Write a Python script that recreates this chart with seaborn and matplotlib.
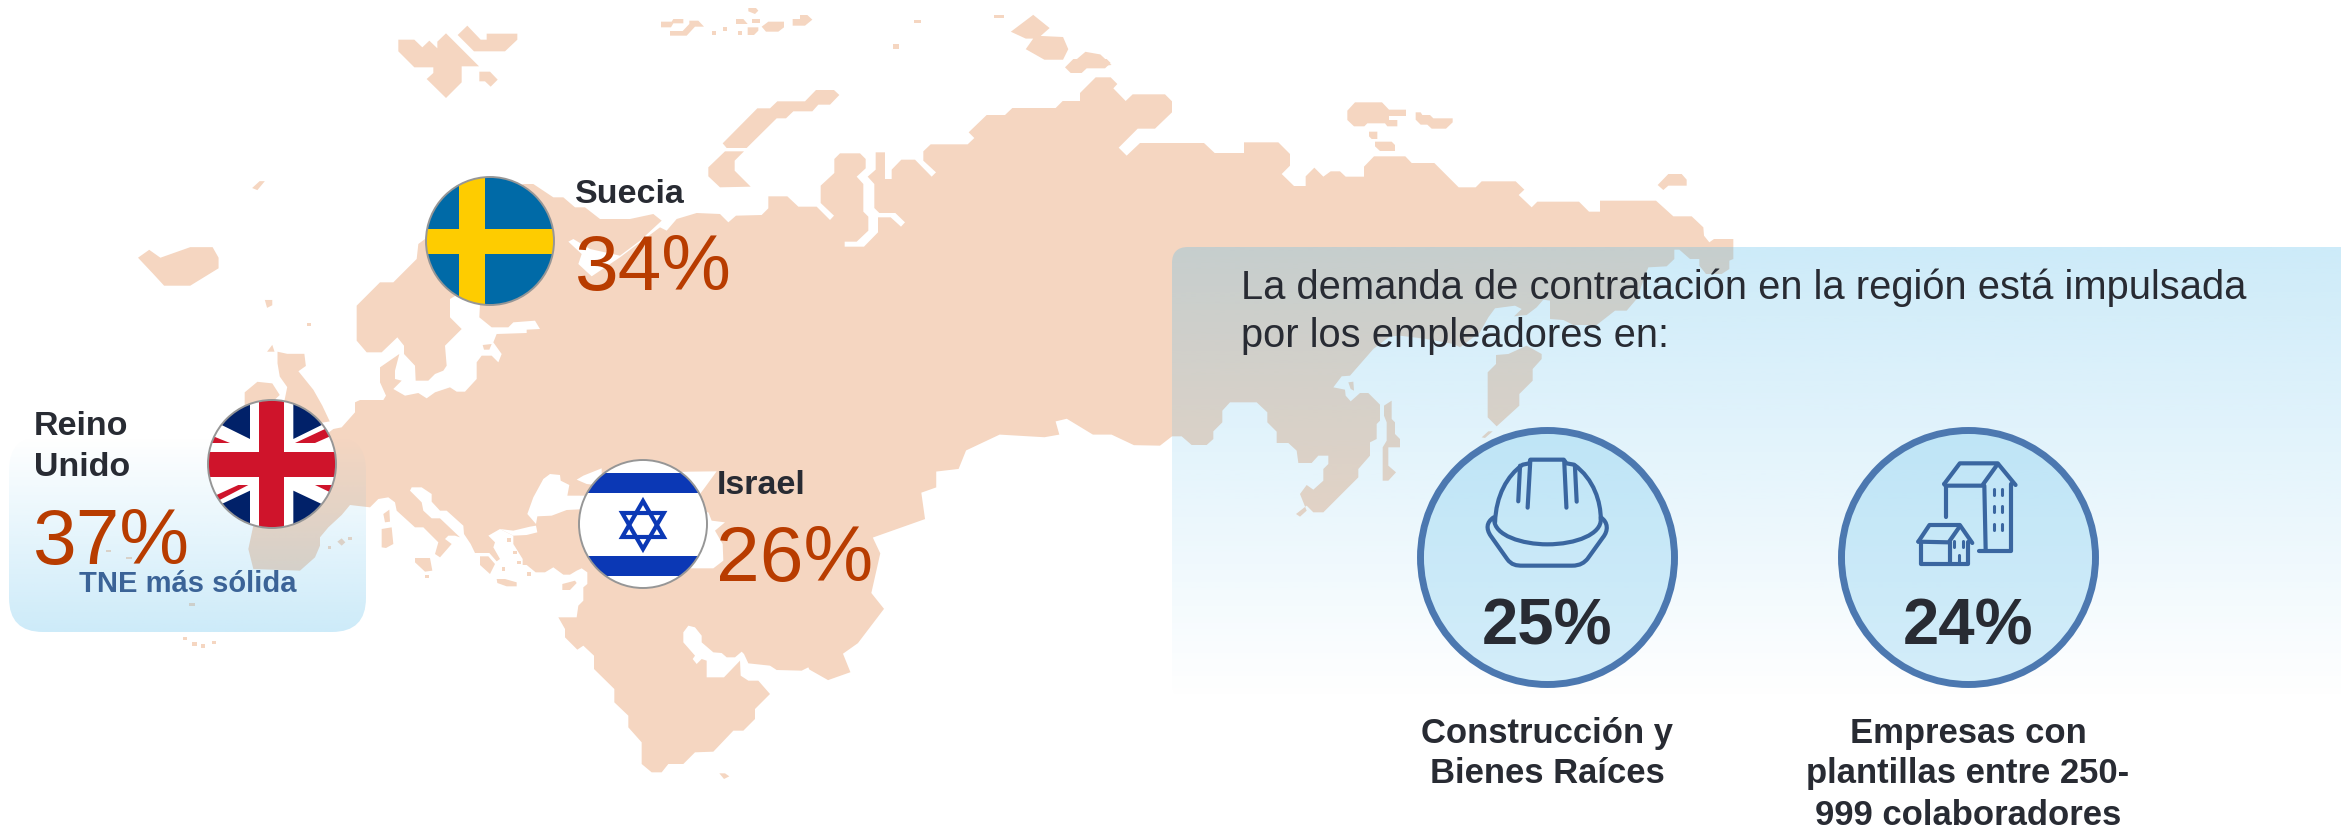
import numpy as np
import matplotlib
matplotlib.use("Agg")
import matplotlib.pyplot as plt
from matplotlib.patches import Polygon, Circle, FancyBboxPatch, PathPatch
from matplotlib.path import Path
import seaborn as sns

# ---------- data ----------
country_names = ["Reino\nUnido", "Suecia", "Israel"]
country_share = [37, 34, 26]
strongest_note = "TNE más sólida"
panel_title = ["La demanda de contratación en la región está impulsada", "por los empleadores en:"]
driver_share = [25, 24]
driver_labels = [["Construcción y", "Bienes Raíces"],
                 ["Empresas con", "plantillas entre 250-", "999 colaboradores"]]

# ---------- colours ----------
LAND = "#F5D6C1"
INK = "#282B33"
RUST = "#B83C00"
STEEL = "#3B6397"
RING = "#4C78B0"
ICON = "#3A66A0"
TINT = (88 / 255, 188 / 255, 235 / 255)

sns.set_theme(style="white")
plt.rcParams["font.family"] = ["Liberation Sans", "DejaVu Sans"]

W, H = 2341, 828
fig = plt.figure(figsize=(W / 100, H / 100), dpi=100, facecolor="white")
ax = fig.add_axes([0, 0, 1, 1])
ax.set_xlim(0, W)
ax.set_ylim(H, 0)
ax.axis("off")


def zm(x0, y0, pts):
    return [(x0 + x / 3, y0 + y / 3) for x, y in pts]


def z1(pts):
    return [(x * 0.746, y * 0.528) for x, y in pts]


# ---------- map outline ----------
main = []
main += zm(520, 170, [(10, 45), (40, 45), (100, 85), (130, 85), (165, 115), (195, 115), (240, 150), (330, 150),
                      (400, 135), (425, 155), (360, 215), (300, 260), (210, 240), (160, 210), (145, 218), (185, 255),
                      (175, 285), (215, 322), (300, 265), (420, 175), (440, 185), (470, 150), (530, 132)])
main += zm(700, 60, [(60, 465), (85, 490), (108, 470), (185, 468), (205, 448), (205, 412), (262, 412), (295, 443),
                     (350, 443), (390, 483), (402, 470), (362, 432), (362, 380), (403, 342), (403, 300), (420, 283),
                     (480, 283), (497, 300), (497, 328), (470, 353), (490, 375), (490, 458), (505, 473), (505, 515),
                     (470, 548), (434, 548), (434, 563), (492, 563), (534, 520), (534, 475), (572, 475), (603, 503),
                     (615, 490), (586, 462), (538, 462), (523, 447), (523, 375), (503, 353), (527, 332), (527, 280),
                     (555, 280), (555, 360), (575, 360), (575, 332), (604, 302), (645, 302), (695, 353), (708, 340),
                     (670, 305), (670, 277), (692, 256), (803, 256), (823, 237), (806, 220), (860, 168), (915, 168),
                     (937, 147), (1067, 147), (1088, 126), (1140, 126), (1140, 102), (1187, 55), (1232, 55),
                     (1252, 75), (1240, 88), (1277, 126), (1298, 106), (1395, 106), (1416, 127), (1416, 160),
                     (1365, 209), (1313, 209), (1256, 266), (1280, 290), (1320, 252), (1512, 252), (1544, 282)])
main += zm(1170, 60, [(222, 282), (222, 250), (325, 250), (360, 285), (360, 320), (335, 345), (372, 381), (407, 381),
                      (407, 352), (433, 326), (460, 353), (482, 337), (510, 337), (527, 353), (582, 353), (582, 323),
                      (612, 292), (706, 292), (725, 312), (793, 312), (866, 385), (917, 385), (935, 367), (1037, 367),
                      (1063, 392), (1046, 408), (1085, 445), (1102, 428), (1227, 428), (1257, 458), (1290, 458),
                      (1290, 425), (1458, 425)])
main += zm(1620, 210, [(160, 22), (215, 22), (250, 55), (252, 80), (268, 100), (282, 90), (340, 90), (340, 150),
                       (328, 155), (328, 180), (305, 195), (258, 195), (238, 170), (238, 150), (210, 150), (178, 122),
                       (163, 122), (163, 150), (140, 172), (85, 175)])
main += zm(1160, 240, [(1430, 180), (1400, 215), (1365, 215), (1310, 258), (1240, 258), (1210, 243), (1170, 240),
                       (1170, 185), (1150, 182), (1130, 205), (1100, 228), (1062, 232), (1085, 210), (1065, 200),
                       (1005, 208), (985, 235), (960, 280), (900, 325), (880, 315), (800, 300), (720, 290), (690, 292),
                       (640, 330), (570, 410), (545, 412), (520, 445), (555, 452), (557, 470), (572, 487), (600, 462),
                       (625, 462), (660, 497), (660, 545), (650, 555), (650, 600), (630, 610), (630, 650), (595, 690),
                       (595, 715), (490, 820), (460, 820), (440, 800), (408, 825), (420, 833), (440, 815), (420, 765),
                       (440, 738), (460, 752), (490, 725), (490, 690), (505, 675), (505, 650), (475, 650), (455, 672),
                       (415, 672), (410, 635), (385, 612), (350, 612), (350, 578), (322, 550), (322, 520), (290, 490),
                       (210, 490), (187, 515), (187, 550), (160, 577), (160, 600), (140, 618), (95, 618), (65, 592),
                       (36, 592), (0, 620)])
main += z1([(1520, 845), (1490, 825), (1465, 825), (1430, 795), (1415, 800), (1420, 825), (1400, 830), (1340, 825),
            (1295, 855), (1285, 890), (1255, 895), (1255, 925), (1235, 935), (1240, 985), (1170, 1020), (1180, 1050),
            (1168, 1125), (1185, 1155), (1150, 1220), (1130, 1240), (1140, 1275), (1110, 1290), (1085, 1270)])
main += zm(300, 480, [(1525, 565), (1505, 575), (1430, 573), (1410, 560), (1345, 553), (1332, 525), (1325, 518),
                      (1305, 535), (1280, 535), (1265, 522), (1240, 520), (1205, 490), (1205, 470), (1185, 445),
                      (1165, 440), (1150, 460), (1150, 490), (1185, 530), (1178, 540), (1190, 555), (1205, 540),
                      (1220, 545), (1220, 595), (1272, 595), (1320, 545), (1322, 590), (1345, 605), (1375, 605),
                      (1410, 645), (1365, 690), (1365, 720), (1330, 755), (1300, 755), (1240, 818), (1185, 820),
                      (1150, 855), (1105, 855), (1085, 880), (1055, 880), (1025, 855), (1025, 790), (985, 745),
                      (985, 710), (943, 670), (943, 630), (882, 570), (882, 530), (850, 500), (832, 512), (795, 475),
                      (795, 450), (775, 415), (830, 415), (835, 380), (850, 365), (850, 325), (862, 315), (862, 280),
                      (845, 268), (830, 275), (810, 287), (790, 287), (760, 265), (735, 280), (707, 280), (680, 258),
                      (668, 258), (668, 240), (640, 195), (640, 170), (600, 150), (565, 170), (585, 190), (580, 205),
                      (600, 240), (590, 247), (568, 222), (525, 222), (512, 195), (492, 165), (490, 140), (440, 95),
                      (420, 95), (395, 68), (395, 45), (365, 25), (335, 25), (330, 35), (365, 70), (370, 95),
                      (395, 118), (420, 118), (480, 175), (465, 170), (445, 170), (435, 180), (455, 195), (420, 235),
                      (405, 225), (415, 190), (370, 145), (345, 145), (290, 95), (285, 70), (265, 55), (235, 60),
                      (210, 85), (150, 78), (125, 108), (85, 145), (60, 175), (60, 200), (45, 235), (0, 275)])
main += zm(0, 380, [(760, 570), (745, 510), (760, 440), (800, 300), (1000, 150)])
main += zm(300, 240, [(125, 565), (165, 520), (165, 490), (180, 483), (250, 483), (258, 470), (240, 430), (240, 385),
                      (298, 345), (285, 395), (285, 420), (305, 425), (280, 450), (315, 470), (355, 462), (380, 478),
                      (405, 460), (450, 445), (470, 458), (495, 458), (530, 420), (530, 370), (545, 350), (575, 350),
                      (595, 370), (605, 345), (580, 310), (590, 285), (680, 282), (680, 272), (720, 270), (705, 245),
                      (640, 250), (625, 265), (575, 265), (538, 235), (540, 195), (500, 150), (450, 180), (450, 235),
                      (485, 270), (435, 320), (440, 380), (430, 395), (405, 405), (385, 425), (347, 425), (345, 380),
                      (312, 345), (312, 320), (292, 295), (245, 340), (200, 340), (170, 305), (170, 200), (240, 130),
                      (280, 130), (350, 60), (355, 15), (375, 0)])

islands = [
    # Novaya Zemlya and arctic
    zm(700, 60, [(68, 253), (172, 148), (210, 148), (232, 127), (315, 127), (348, 93), (402, 93), (418, 108),
                 (390, 137), (355, 137), (337, 157), (280, 157), (258, 178), (230, 178), (140, 267), (80, 267)]),
    zm(700, 60, [(25, 325), (75, 277), (132, 277), (104, 305), (104, 335), (152, 383), (60, 385), (25, 352)]),
    zm(700, 60, [(1095, 25), (1120, 0), (1220, 0), (1232, 12), (1215, 28), (1160, 28), (1145, 42), (1112, 42)]),
    # Svalbard
    zm(380, 0, [(55, 122), (103, 122), (127, 145), (148, 125), (172, 148), (172, 128), (198, 103), (297, 202),
                (245, 202), (245, 250), (198, 297), (140, 240), (160, 222), (160, 205), (103, 205), (55, 157)]),
    zm(380, 0, [(233, 108), (262, 80), (302, 122), (320, 122), (320, 104), (412, 104), (412, 122), (375, 157),
                (282, 157)]),
    zm(380, 0, [(298, 218), (330, 218), (353, 242), (332, 263), (315, 247), (298, 247)]),
    # Franz Josef Land
    zm(380, 0, [(843, 68), (875, 68), (880, 60), (910, 60), (910, 73), (880, 73), (873, 85), (843, 85)]),
    zm(380, 0, [(870, 96), (908, 96), (928, 75), (928, 65), (955, 65), (972, 83), (945, 83), (920, 110), (870, 110)]),
    zm(380, 0, [(995, 95), (1007, 95), (1007, 107), (995, 107)]),
    zm(380, 0, [(1030, 85), (1040, 85), (1040, 95), (1030, 95)]),
    zm(380, 0, [(1075, 95), (1087, 95), (1087, 107), (1075, 107)]),
    zm(380, 0, [(1068, 60), (1090, 60), (1103, 75), (1068, 75)]),
    zm(380, 0, [(1115, 60), (1140, 60), (1140, 72), (1115, 72)]),
    zm(380, 0, [(1103, 85), (1135, 85), (1135, 95), (1122, 108), (1103, 108)]),
    zm(380, 0, [(1145, 83), (1165, 68), (1212, 68), (1212, 85), (1195, 98), (1158, 98)]),
    zm(380, 0, [(1238, 60), (1260, 60), (1260, 48), (1282, 48), (1297, 62), (1275, 80), (1238, 80)]),
    zm(380, 0, [(1105, 27), (1128, 27), (1135, 35), (1125, 45), (1105, 37)]),
    zm(380, 0, [(1540, 135), (1555, 135), (1555, 150), (1540, 150)]),
    z1([(1355, 62), (1385, 30), (1407, 55), (1395, 70), (1425, 72), (1432, 95), (1425, 115), (1400, 115), (1375, 95),
        (1385, 75), (1375, 75)]),
    z1([(1430, 130), (1455, 100), (1475, 105), (1490, 125), (1455, 130), (1440, 140)]),
    z1([(1225, 40), (1235, 40), (1235, 46), (1225, 46)]),
    z1([(1198, 85), (1205, 85), (1205, 95), (1198, 95)]),
    z1([(1333, 30), (1346, 30), (1346, 36), (1333, 36)]),
    # Severnaya Zemlya and New Siberian
    zm(1170, 60, [(532, 155), (555, 130), (636, 130), (657, 152), (708, 152), (708, 171), (657, 171), (657, 183),
                  (682, 183), (682, 202), (652, 202), (645, 193), (592, 193), (583, 202), (552, 202), (532, 183)]),
    zm(1170, 60, [(737, 160), (752, 160), (757, 168), (780, 168), (790, 178), (848, 178), (848, 190), (828, 209),
                  (785, 209), (772, 197), (752, 197), (737, 182)]),
    zm(1170, 60, [(597, 218), (622, 218), (622, 240), (605, 240), (597, 232)]),
    zm(1170, 60, [(615, 248), (665, 248), (675, 258), (675, 276), (630, 276), (615, 262)]),
    zm(1170, 60, [(1463, 378), (1495, 345), (1535, 345), (1550, 362), (1550, 380), (1495, 380), (1480, 393)]),
    # Iceland and north Atlantic
    z1([(185, 490), (200, 475), (215, 490), (255, 470), (285, 470), (293, 490), (293, 510), (255, 543), (220, 543),
        (205, 520)]),
    z1([(338, 358), (348, 345), (355, 345), (345, 362)]),
    z1([(355, 570), (365, 570), (365, 580), (358, 585)]),
    # Britain and Ireland
    z1([(372, 668), (385, 672), (408, 672), (410, 695), (400, 705), (420, 740), (432, 770), (442, 800), (400, 810),
        (380, 770), (385, 735), (375, 715), (372, 690)]),
    z1([(328, 745), (345, 725), (365, 728), (375, 750), (345, 790), (328, 775)]),
    z1([(358, 668), (365, 655), (368, 668)]),
    # Mediterranean
    zm(300, 480, [(250, 105), (268, 92), (270, 128), (255, 130)]),
    zm(300, 480, [(245, 150), (275, 145), (280, 195), (258, 207), (245, 205)]),
    zm(300, 480, [(345, 237), (390, 237), (397, 275), (375, 278), (345, 250)]),
    zm(300, 480, [(590, 300), (615, 300), (650, 310), (650, 322), (620, 322), (592, 312)]),
    zm(300, 480, [(787, 315), (825, 305), (830, 312), (810, 333), (787, 333)]),
    zm(300, 480, [(540, 232), (565, 232), (585, 255), (580, 265), (570, 285), (540, 258)]),
    zm(300, 480, [(112, 188), (125, 178), (136, 190), (125, 200)]),
    zm(300, 480, [(143, 175), (155, 175), (155, 182), (143, 182)]),
    zm(300, 480, [(83, 202), (94, 202), (94, 211), (83, 211)]),
    zm(300, 480, [(375, 288), (386, 288), (386, 298), (375, 298)]),
    zm(300, 480, [(620, 178), (632, 178), (632, 188), (620, 188)]),
    zm(300, 480, [(638, 216), (650, 216), (650, 226), (638, 226)]),
    zm(300, 480, [(652, 246), (662, 246), (662, 256), (652, 256)]),
    zm(300, 480, [(605, 265), (615, 265), (615, 275), (605, 275)]),
    zm(300, 480, [(682, 280), (692, 280), (692, 290), (682, 290)]),
    zm(300, 480, [(1258, 883), (1275, 883), (1288, 892), (1272, 900)]),
    zm(300, 240, [(22, 252), (34, 252), (34, 262), (22, 262)]),
    zm(300, 240, [(548, 318), (575, 315), (568, 332), (552, 332)]),
    # Atlantic specks
    zm(0, 380, [(550, 775), (560, 775), (560, 783), (550, 783)]),
    zm(0, 380, [(577, 788), (592, 788), (592, 802), (577, 802)]),
    zm(0, 380, [(604, 796), (614, 796), (614, 806), (604, 806)]),
    zm(0, 380, [(636, 785), (648, 785), (648, 795), (636, 795)]),
    zm(0, 380, [(568, 672), (585, 672), (585, 680), (568, 680)]),
    zm(0, 380, [(378, 534), (396, 534), (396, 541), (378, 541)]),
    zm(0, 380, [(318, 512), (333, 512), (333, 518), (318, 518)]),
    # Far east
    zm(1160, 240, [(672, 500), (695, 485), (695, 540), (705, 550), (705, 585), (720, 600), (720, 625), (685, 625),
                   (685, 680), (708, 700), (685, 725), (668, 725), (668, 625), (680, 605), (680, 550), (672, 530)]),
    zm(1160, 240, [(983, 400), (1008, 375), (1008, 348), (1045, 345), (1100, 320), (1145, 345), (1145, 360),
                   (1118, 390), (1118, 425), (1078, 465), (1078, 500), (1010, 562), (983, 535)]),
    zm(1160, 240, [(965, 595), (985, 577), (998, 577), (975, 597)]),
    zm(1160, 240, [(565, 430), (580, 428), (582, 455), (572, 450)]),
]

seas = [
    # Black Sea and Bosphorus
    zm(300, 240, [(682, 825), (700, 775), (730, 720), (750, 705), (780, 708), (782, 725), (808, 738), (802, 770),
                  (860, 770), (860, 810), (800, 813), (755, 830), (712, 832), (708, 855)]),
    zm(300, 480, [(600, 150), (640, 155), (690, 143), (708, 140), (712, 160), (680, 168), (640, 170)]),
    zm(300, 240, [(830, 722), (850, 710), (905, 688), (905, 740), (860, 735)]),
    # Caspian and Azov
    zm(300, 480, [(1185, 268), (1240, 268), (1270, 245), (1268, 195), (1245, 155), (1275, 130), (1235, 125),
                  (1225, 100), (1150, 100), (1150, 268)]),
    zm(300, 240, [(1100, 700), (1165, 698), (1250, 697), (1215, 745), (1200, 765), (1100, 790)]),
]

ax.add_patch(Polygon(main, closed=True, fc=LAND, ec="none", zorder=1))
for poly in islands:
    ax.add_patch(Polygon(poly, closed=True, fc=LAND, ec="none", zorder=1))
for poly in seas:
    ax.add_patch(Polygon(poly, closed=True, fc="white", ec="none", zorder=1.5))


# ---------- gradient panels ----------
def gradient_panel(x0, x1, y0, y1, a_top, a_bottom, radius, zorder=2):
    grad = np.zeros((256, 1, 4))
    grad[..., 0], grad[..., 1], grad[..., 2] = TINT
    grad[:, 0, 3] = np.linspace(a_top, a_bottom, 256)
    im = ax.imshow(grad, extent=(x0, x1, y1, y0), origin="upper", aspect="auto", zorder=zorder, interpolation="bilinear")
    clip = FancyBboxPatch((x0 + radius, y0 + radius), x1 - x0 - 2 * radius, y1 - y0 - 2 * radius,
                          boxstyle=f"round,pad={radius},rounding_size={radius}", transform=ax.transData,
                          fc="none", ec="none")
    ax.add_patch(clip)
    im.set_clip_path(clip)


gradient_panel(1172, 2420, 248, 702, 0.30, 0.0, 16)
gradient_panel(9, 366, 437, 633, 0.0, 0.30, 34)
ax.set_xlim(0, W)
ax.set_ylim(H, 0)


# ---------- flags ----------
def flag_disc(cx, cy, r=64):
    return Circle((cx, cy), r, transform=ax.transData, fc="none", ec="none")


def clipped(patch, disc):
    ax.add_patch(patch)
    patch.set_clip_path(disc)
    return patch


def rect(x0, y0, x1, y1):
    return [(x0, y0), (x1, y0), (x1, y1), (x0, y1)]


def finish_flag(cx, cy, r=64):
    ax.add_patch(Circle((cx, cy), r, fc="none", ec="#969696", lw=1.4, zorder=6))


# Sweden
sx, sy = 490, 242
disc = flag_disc(sx, sy)
ax.add_patch(disc)
clipped(Polygon(rect(sx - 70, sy - 70, sx + 70, sy + 70), fc="#006AA7", ec="none", zorder=5), disc)
clipped(Polygon(rect(459, sy - 70, 485, sy + 70), fc="#FECC00", ec="none", zorder=5.1), disc)
clipped(Polygon(rect(sx - 70, 230, sx + 70, 255), fc="#FECC00", ec="none", zorder=5.1), disc)
finish_flag(sx, sy)

# United Kingdom
ux, uy = 272, 465
disc = flag_disc(ux, uy)
ax.add_patch(disc)
clipped(Polygon(rect(ux - 70, uy - 70, ux + 70, uy + 70), fc="white", ec="none", zorder=5), disc)
navy = [[(750, 50), (750, 180), (665, 138), (680, 50)], [(880, 50), (880, 180), (965, 138), (950, 50)],
        [(750, 335), (750, 460), (640, 460), (665, 375)], [(880, 335), (965, 375), (990, 460), (880, 460)]]
for p in navy:
    clipped(Polygon(zm(0, 380, p), fc="#012169", ec="none", zorder=5.1), disc)
reds = [[(635, 170), (690, 192), (620, 192)], [(885, 192), (975, 150), (995, 170), (945, 192)],
        [(645, 350), (715, 318), (745, 318), (655, 365)], [(945, 318), (1010, 318), (995, 342)],
        [(778, 50), (852, 50), (852, 460), (778, 460)], [(610, 218), (1020, 218), (1020, 293), (610, 293)]]
for p in reds:
    clipped(Polygon(zm(0, 380, p), fc="#CF142B", ec="none", zorder=5.2), disc)
finish_flag(ux, uy)

# Israel
ix, iy = 643, 525
disc = flag_disc(ix, iy)
ax.add_patch(disc)
clipped(Polygon(rect(ix - 70, iy - 70, ix + 70, iy + 70), fc="white", ec="none", zorder=5), disc)
clipped(Polygon(rect(ix - 70, 474, ix + 70, 494), fc="#0B38B5", ec="none", zorder=5.1), disc)
clipped(Polygon(rect(ix - 70, 557, ix + 70, 577), fc="#0B38B5", ec="none", zorder=5.1), disc)
for rot in (-90, 90):
    ang = np.deg2rad(rot + np.array([0, 120, 240]))
    tri = list(zip(ix + 24 * np.cos(ang), 526 + 24 * np.sin(ang)))
    ax.add_patch(Polygon(tri, closed=True, fc="none", ec="#0B38B5", lw=3, joinstyle="miter", zorder=5.3))
finish_flag(ix, iy)

# ---------- rings, through seaborn ----------
ring_cx = [1547, 1968]
sns.scatterplot(x=ring_cx, y=[558, 558], s=(254 * 0.72) ** 2, color=TINT + (0.25,), edgecolor=RING, linewidth=5,
                marker="o", legend=False, ax=ax, zorder=4, clip_on=False)
ax.set_xlim(0, W)
ax.set_ylim(H, 0)
ax.axis("off")


# ---------- icons ----------
def z3(x, y):
    return (1380 + x * 0.446, 420 + y / 3)


def curve(*segments, lw=3.0):
    verts, codes = [], []
    for seg in segments:
        kind, pts = seg
        pts = [z3(*p) for p in pts]
        if kind == "M":
            verts += pts; codes += [Path.MOVETO]
        elif kind == "L":
            verts += pts; codes += [Path.LINETO] * len(pts)
        elif kind == "C":
            verts += pts; codes += [Path.CURVE4] * len(pts)
    ax.add_patch(PathPatch(Path(verts, codes), fc="none", ec=ICON, lw=lw, capstyle="round", joinstyle="round", zorder=4.5))


# helmet
curve(("M", [(258, 310)]), ("C", [(260, 230), (285, 170), (320, 137)]), ("L", [(335, 133), (337, 122), (412, 122),
      (418, 133), (435, 137)]), ("C", [(480, 180), (495, 250), (495, 300)]))
curve(("M", [(256, 300)]), ("C", [(255, 350), (320, 376), (375, 376)]), ("C", [(440, 376), (497, 345), (495, 300)]))
curve(("M", [(255, 295)]), ("C", [(238, 310), (238, 330), (248, 350)]), ("L", [(285, 420)]),
      ("C", [(295, 438), (305, 440), (320, 440)]), ("L", [(430, 440)]), ("C", [(450, 440), (458, 430), (465, 420)]),
      ("L", [(500, 355)]), ("C", [(512, 335), (512, 310), (495, 295)]))
for a, b in [((310, 247), (314, 140)), ((331, 266), (337, 125)), ((418, 266), (413, 125)), ((441, 248), (437, 140))]:
    curve(("M", [a]), ("L", [b]))

# buildings
curve(("M", [(1265, 195)]), ("L", [(1300, 133), (1385, 133), (1425, 198)]))
curve(("M", [(1265, 195)]), ("L", [(1268, 200), (1350, 200), (1385, 135)]))
curve(("M", [(1355, 200)]), ("L", [(1358, 393)]))
curve(("M", [(1415, 195)]), ("L", [(1415, 396), (1343, 396)]))
curve(("M", [(1270, 200)]), ("L", [(1270, 295)]))
for wy in (210, 262, 315):
    for wx in (1377, 1395):
        curve(("M", [(wx, wy)]), ("L", [(wx, wy + 17)]), lw=2.2)
curve(("M", [(1207, 368)]), ("L", [(1232, 318), (1300, 318), (1328, 372)]))
curve(("M", [(1207, 368)]), ("L", [(1275, 370), (1300, 322)]))
curve(("M", [(1212, 370)]), ("L", [(1212, 435), (1318, 435), (1318, 370)]))
curve(("M", [(1278, 370)]), ("L", [(1278, 435)]))
for wx in (1288, 1308):
    curve(("M", [(wx, 367)]), ("L", [(wx, 384)]), lw=2.2)
curve(("M", [(1298, 407)]), ("L", [(1298, 432)]), lw=2.2)

# ---------- text ----------
txt = dict(zorder=7, va="baseline")
name_kw = dict(color=INK, fontsize=24.5, fontweight="bold", **txt)
pct_kw = dict(color=RUST, fontsize=56.5, **txt)

uk_lines = country_names[0].split("\n")
ax.text(34, 435, uk_lines[0], **name_kw)
ax.text(34, 476, uk_lines[1], **name_kw)
ax.text(32, 564, f"{country_share[0]}%", **pct_kw)
ax.text(79, 592, strongest_note, color=STEEL, fontsize=21, fontweight="bold", **txt)

ax.text(575, 203, country_names[1], **name_kw)
ax.text(574, 290, f"{country_share[1]}%", **pct_kw)

ax.text(717, 494, country_names[2], **name_kw)
ax.text(716, 581, f"{country_share[2]}%", **pct_kw)

ax.text(1241, 299, panel_title[0], color=INK, fontsize=28.75, **txt)
ax.text(1241, 347, panel_title[1], color=INK, fontsize=28.75, **txt)

for cx, share, lines in zip(ring_cx, driver_share, driver_labels):
    ax.text(cx, 645, f"{share}%", color=INK, fontsize=47, fontweight="bold", ha="center", **txt)
    for base, line in zip((743, 783, 825), lines):
        ax.text(cx, base, line, color=INK, fontsize=24.9, fontweight="bold", ha="center", **txt)

fig.savefig("out.png", dpi=100, facecolor="white")
